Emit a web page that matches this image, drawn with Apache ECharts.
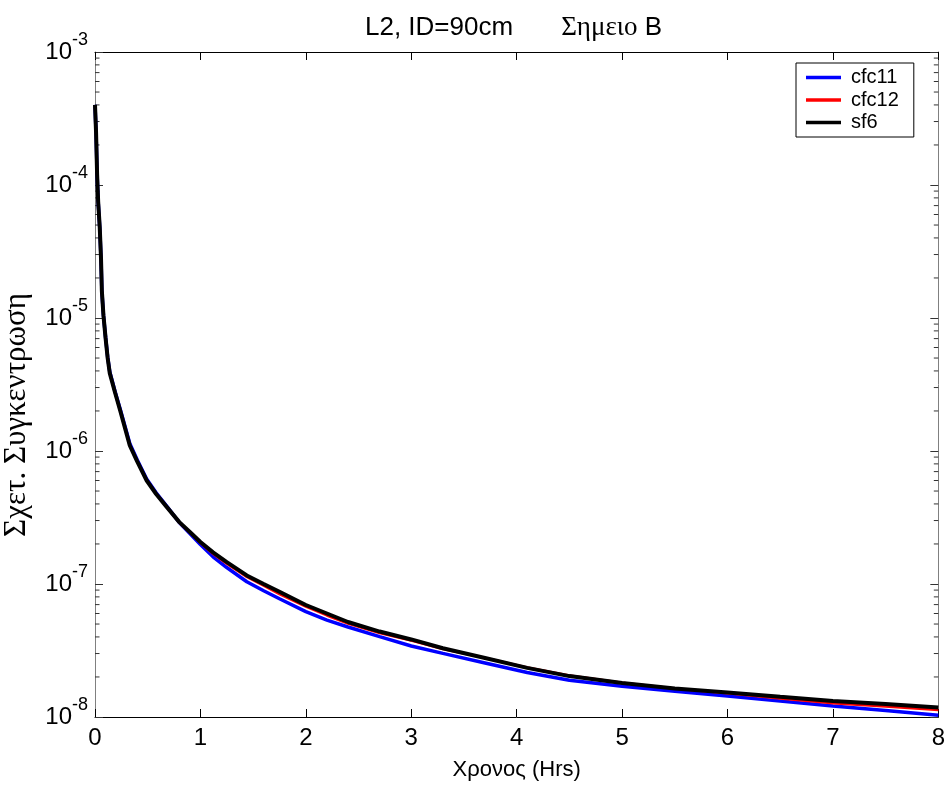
<!DOCTYPE html>
<html>
<head>
<meta charset="utf-8">
<script src="https://cdn.jsdelivr.net/npm/echarts@6/dist/echarts.min.js"></script>
<style>html,body{margin:0;padding:0;background:#fff}#c{width:948px;height:787px}</style>
</head>
<body>
<div id="c"></div>
<script>
// ---- data ----
const hours = [0, 0.01, 0.02, 0.03, 0.045, 0.057, 0.065, 0.08, 0.1, 0.12, 0.14, 0.19, 0.24, 0.33, 0.4, 0.49, 0.58, 0.68, 0.8, 0.9, 1.0, 1.12, 1.25, 1.44, 1.6, 1.75, 2.0, 2.2, 2.4, 2.7, 3.0, 3.3, 3.7, 4.1, 4.5, 5.0, 5.5, 6.0, 6.5, 7.0, 7.5, 8.0];
const cfc11 = [4.0e-4, 2.5e-4, 1.2e-4, 7.5e-5, 4.8e-5, 2.8e-5, 1.6e-5, 1.05e-5, 7.2e-6, 5.1e-6, 3.95e-6, 2.8e-6, 2.05e-6, 1.14e-6, 8.6e-7, 6.15e-7, 4.85e-7, 3.85e-7, 2.9e-7, 2.4e-7, 1.98e-7, 1.6e-7, 1.33e-7, 1.04e-7, 8.9e-8, 7.75e-8, 6.2e-8, 5.35e-8, 4.75e-8, 4.02e-8, 3.42e-8, 3.01e-8, 2.55e-8, 2.16e-8, 1.89e-8, 1.70e-8, 1.56e-8, 1.44e-8, 1.32e-8, 1.21e-8, 1.12e-8, 1.03e-8];
const cfc12 = [4.0e-4, 2.5e-4, 1.2e-4, 7.5e-5, 4.8e-5, 2.8e-5, 1.6e-5, 1.05e-5, 7.1e-6, 5.0e-6, 3.85e-6, 2.75e-6, 2.0e-6, 1.11e-6, 8.4e-7, 6.05e-7, 4.78e-7, 3.8e-7, 2.9e-7, 2.43e-7, 2.04e-7, 1.69e-7, 1.42e-7, 1.13e-7, 9.7e-8, 8.4e-8, 6.75e-8, 5.8e-8, 5.05e-8, 4.28e-8, 3.75e-8, 3.25e-8, 2.78e-8, 2.36e-8, 2.05e-8, 1.81e-8, 1.64e-8, 1.51e-8, 1.38e-8, 1.27e-8, 1.20e-8, 1.13e-8];
const sf6 = [4.0e-4, 2.5e-4, 1.2e-4, 7.5e-5, 4.8e-5, 2.8e-5, 1.6e-5, 1.05e-5, 7.1e-6, 5.0e-6, 3.85e-6, 2.75e-6, 2.0e-6, 1.1e-6, 8.35e-7, 6.0e-7, 4.75e-7, 3.8e-7, 2.92e-7, 2.46e-7, 2.07e-7, 1.73e-7, 1.46e-7, 1.16e-7, 1.0e-7, 8.75e-8, 6.95e-8, 6.0e-8, 5.18e-8, 4.39e-8, 3.83e-8, 3.29e-8, 2.78e-8, 2.34e-8, 2.03e-8, 1.80e-8, 1.64e-8, 1.53e-8, 1.42e-8, 1.32e-8, 1.25e-8, 1.18e-8];
const seriesNames = ['cfc11', 'cfc12', 'sf6'];
const xTicks = [0, 1, 2, 3, 4, 5, 6, 7, 8];
const yMin = 1e-8, yMax = 1e-3;
const minorMult = [2, 3, 4, 5, 6, 7, 8, 9];
const decades = [-8, -7, -6, -5, -4];
const titleMain = 'L2, ID=90cm';
const titleGreek = 'Σημειο';
const titleTail = 'B';
const xName = 'Χρονος (Hrs)';
const yName = 'Σχετ. Συγκεντρωση';

// ---- build ----
const minorVals = [];
decades.forEach(d => minorMult.forEach(m => minorVals.push(m * Math.pow(10, d))));
const pair = (ys) => hours.map((h, i) => [h, ys[i]]);
const SANS = '"Liberation Sans", Arial, sans-serif';
const SERIF = '"Liberation Serif", "Times New Roman", serif';

const chart = echarts.init(document.getElementById('c'), null, {renderer: 'canvas'});
const axisGray = '#808080';

const lineCommon = {type: 'line', showSymbol: false, symbol: 'none', smooth: false};

const option = {
  backgroundColor: '#fff',
  animation: false,
  title: {
    text: '{a|' + titleMain + '}{sp|}{g|' + titleGreek + '}{a| ' + titleTail + '}',
    left: 360, top: 9,
    textStyle: {
      fontWeight: 'normal',
      rich: {
        a: {fontFamily: SANS, fontSize: 26, fontWeight: 'normal', color: '#000'},
        sp: {width: 48},
        g: {fontFamily: SERIF, fontSize: 27, fontWeight: 'normal', color: '#000'}
      }
    }
  },
  legend: {
    data: seriesNames.map(n => ({name: n, icon: 'rect'})),
    orient: 'vertical',
    left: 796, top: 63,
    itemWidth: 35, itemHeight: 3.5, itemGap: 2.5,
    padding: [4.5, 15, 4.5, 10],
    borderColor: '#000', borderWidth: 1, backgroundColor: '#fff',
    textStyle: {fontFamily: SANS, fontSize: 20, lineHeight: 20, color: '#000', padding: [0, 0, 0, 5]}
  },
  grid: {left: 95, top: 52, right: 9, bottom: 70, containLabel: false},
  xAxis: [{
    type: 'value', min: 0, max: 8, interval: 1, position: 'bottom',
    name: xName, nameLocation: 'middle', nameGap: 42,
    nameTextStyle: {fontFamily: SANS, fontSize: 22, color: '#000'},
    axisLine: {onZero: false, lineStyle: {color: '#000', width: 1}},
    axisTick: {inside: true, length: 8, lineStyle: {color: '#000'}},
    axisLabel: {fontFamily: SANS, fontSize: 24, color: '#000', margin: 9},
    splitLine: {show: false}
  }, {
    type: 'value', min: 0, max: 8, interval: 1, position: 'top',
    axisLine: {onZero: false, lineStyle: {color: '#000', width: 1}},
    axisTick: {inside: true, length: 8, lineStyle: {color: '#000'}},
    axisLabel: {show: false}, splitLine: {show: false}
  }],
  yAxis: [{
    type: 'log', logBase: 10, min: yMin, max: yMax, position: 'left',
    axisLine: {onZero: false, lineStyle: {color: axisGray, width: 1}},
    axisTick: {inside: true, length: 8, lineStyle: {color: '#333'}},
    axisLabel: {
      margin: 7,
      formatter: v => '{b|10}{s|' + Math.round(Math.log10(v)) + '}',
      rich: {
        b: {fontFamily: SANS, fontSize: 24, lineHeight: 24, padding: [12, 0, 12, 0], color: '#000'},
        s: {fontFamily: SANS, fontSize: 18, lineHeight: 18, padding: [3, 0, 27, 0], color: '#000'}
      }
    },
    splitLine: {show: false}
  }, {
    type: 'log', logBase: 10, min: yMin, max: yMax, position: 'right',
    axisLine: {onZero: false, lineStyle: {color: axisGray, width: 1}},
    axisTick: {inside: true, length: 8, lineStyle: {color: '#333'}},
    axisLabel: {show: false}, splitLine: {show: false}
  }],
  graphic: [{
    type: 'text', x: 17, y: 415, rotation: Math.PI / 2,
    style: {text: yName, font: '31px ' + SERIF, fill: '#000', align: 'center', verticalAlign: 'middle'}
  }],
  series: [
    Object.assign({name: 'cfc11', data: pair(cfc11), lineStyle: {color: '#0000ff', width: 3.5}, itemStyle: {color: '#0000ff'}}, lineCommon),
    Object.assign({name: 'cfc12', data: pair(cfc12), lineStyle: {color: '#ff0000', width: 2.5}, itemStyle: {color: '#ff0000'}}, lineCommon),
    Object.assign({name: 'sf6', data: pair(sf6), lineStyle: {color: '#000000', width: 4}, itemStyle: {color: '#000000'}}, lineCommon),
    {
      name: 'minor', type: 'custom', silent: true, clip: false, legendHoverLink: false,
      data: minorVals.map(v => [0, v]),
      renderItem: function (params, api) {
        const v = api.value(1);
        const pl = api.coord([0, v]);
        const pr = api.coord([8, v]);
        return {
          type: 'group',
          children: [
            {type: 'line', shape: {x1: pl[0], y1: pl[1], x2: pl[0] + 4.5, y2: pl[1]}, style: {stroke: '#333', lineWidth: 1}},
            {type: 'line', shape: {x1: pr[0] - 4.5, y1: pr[1], x2: pr[0], y2: pr[1]}, style: {stroke: '#333', lineWidth: 1}}
          ]
        };
      }
    }
  ]
};
chart.setOption(option);
</script>
</body>
</html>
